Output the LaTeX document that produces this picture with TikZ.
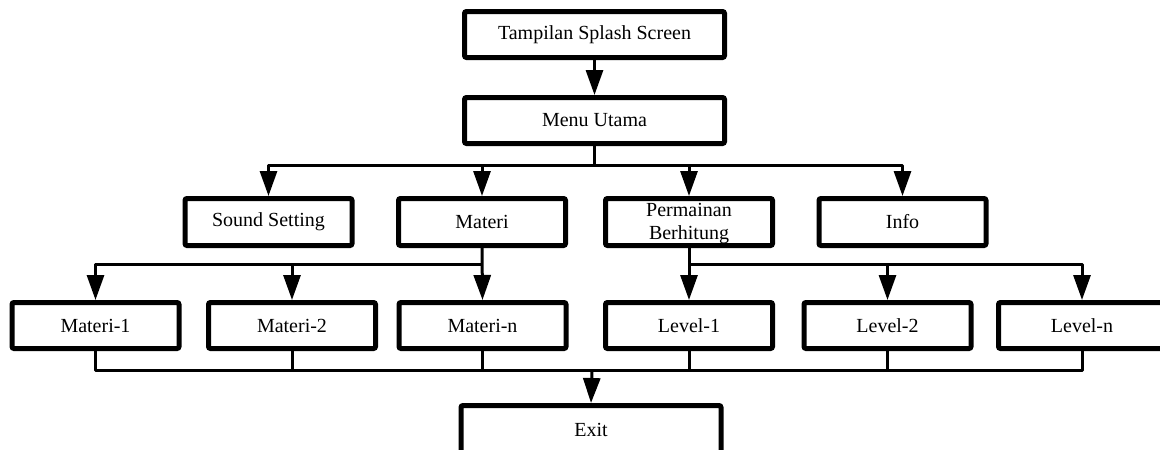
\documentclass[tikz,border=0pt]{standalone}
\usepackage{fontspec}
\setmainfont{Liberation Serif}
\usetikzlibrary{arrows.meta}
\begin{document}
\begin{tikzpicture}[x=1pt,y=-1pt,
  box/.style={draw=black,line width=5pt,fill=white,rounded corners=2pt,
    minimum width=167pt,minimum height=47pt,inner sep=0pt,
    font=\fontsize{20}{23}\selectfont,align=center},
  widebox/.style={box,minimum width=260pt,minimum height=46pt},
  conn/.style={line width=3pt,line join=round},
  arr/.style={conn,-{Triangle[length=25pt,width=17pt]}}]
\useasboundingbox (0,0) rectangle (1160,450);
% top
\node[widebox] (splash) at (594.5,34.5) {Tampilan Splash Screen};
\node[widebox] (menu) at (594.5,120.5) {Menu Utama};
% row 2
\node[box] (sound) at (268.5,222) {Sound Setting};
\node[box] (materi) at (482,222) {Materi};
\node[box] (game) at (689,222) {};
\node[font=\fontsize{20}{23}\selectfont,align=center,inner sep=0pt] (gametext) at (689,224) {Permainan\\Berhitung};
\node[box] (info) at (902.5,222) {Info};
% row 3
\node[box,minimum height=46pt] (m1) at (95.5,325.5) {Materi-1};
\node[box,minimum height=46pt] (m2) at (292,325.5) {Materi-2};
\node[box,minimum height=46pt] (mn) at (482.5,325.5) {Materi-n};
\node[box,minimum height=46pt] (l1) at (689,325.5) {Level-1};
\node[box,minimum height=46pt] (l2) at (887.5,325.5) {Level-2};
\node[box,minimum height=46pt] (ln) at (1082,325.5) {Level-n};
% exit (its lower edge runs past the picture)
\node[widebox,minimum height=55pt] (exit) at (591,433) {};
\node[font=\fontsize{20}{23}\selectfont,inner sep=0pt] (exittext) at (591,430) {Exit};
% connectors
\coordinate (b1) at (594.5,165);
\coordinate (b2) at (482,264);
\coordinate (b2r) at (689,264);
\coordinate (b3) at (592,370);
\draw[arr] (splash.south) -- (menu.north);
\draw[conn] (menu.south) -- (b1);
\draw[arr] (b1) -| (sound.north);
\draw[arr] (b1) -| (materi.north);
\draw[arr] (b1) -| (game.north);
\draw[arr] (b1) -| (info.north);
\draw[arr] (materi.south) -- (mn.north);
\draw[arr] (b2) -| (m1.north);
\draw[arr] (b2) -| (m2.north);
\draw[arr] (game.south) -- (l1.north);
\draw[arr] (b2r) -| (l2.north);
\draw[arr] (b2r) -| (ln.north);
\draw[conn] (m1.south) |- (b3);
\draw[conn] (m2.south) |- (b3);
\draw[conn] (mn.south) |- (b3);
\draw[conn] (l1.south) |- (b3);
\draw[conn] (l2.south) |- (b3);
\draw[conn] (ln.south) |- (b3);
\draw[arr] (b3) -- (exit.north);
\end{tikzpicture}
\end{document}
